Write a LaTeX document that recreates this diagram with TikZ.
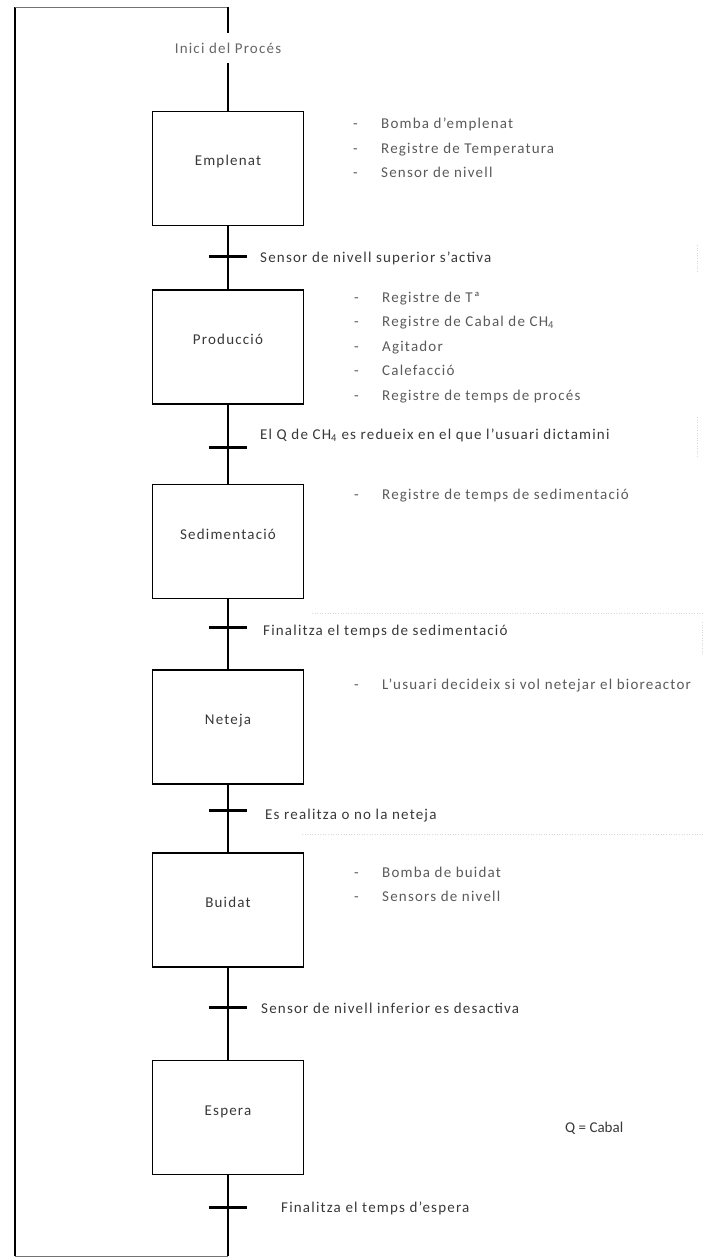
\documentclass[tikz,border=0pt]{standalone}
\usepackage{fontspec}
\setmainfont{Carlito}[LetterSpace=8]
\usepackage{tikz}
\definecolor{stepgray}{HTML}{383838}
\definecolor{listgray}{HTML}{5A5A5A}
\newcommand{\actdash}{\makebox[28pt][l]{-}}

\begin{document}
\begin{tikzpicture}[x=1pt, y=-1pt,
    every node/.style={font=\fontsize{15}{18}\selectfont, text=stepgray},
    stepbox/.style={draw=black, line width=1.5pt, minimum width=151pt, minimum height=114pt,
                    text height=6pt, text depth=11pt, inner sep=0pt},
    flow/.style={line width=2.9pt},
    bar/.style={line width=3pt},
    loopline/.style={line width=0.9pt, black!55},
    action/.style={anchor=base west, inner sep=0pt, text=listgray},
    tlabel/.style={anchor=base west, inner sep=0pt},
    frame/.style={dotted, black!15, line width=0.6pt}]

    \useasboundingbox (0,0) rectangle (712,1257);

    % Start of the cycle
    \node[minimum height=30pt, inner sep=0pt, text=black!60] (inici) at (228,48) {Inici del Procés};

    % Steps of the process
    \node[stepbox] (emplenat) at (228,168.5) {Emplenat};
    \node[stepbox] (produccio) at (228,347) {Producció};
    \node[stepbox] (sedimentacio) at (228,541.5) {Sedimentació};
    \node[stepbox] (neteja) at (228,727) {Neteja};
    \node[stepbox] (buidat) at (228,910) {Buidat};
    \node[stepbox] (espera) at (228,1117.5) {Espera};

    % Transitions between the steps
    \coordinate (t1) at (228,256);
    \coordinate (t2) at (228,447);
    \coordinate (t3) at (228,627);
    \coordinate (t4) at (228,810);
    \coordinate (t5) at (228,1007);
    \coordinate (t6) at (228,1207);

    % Corners of the return loop
    \coordinate (br) at (228,1256);
    \coordinate (bl) at (15,1256);
    \coordinate (tl) at (15,7);
    \coordinate (tr) at (228,7);

    % Main flow line
    \draw[flow] (inici) -- (emplenat);
    \draw[flow] (emplenat) -- (t1) -- (produccio);
    \draw[flow] (produccio) -- (t2) -- (sedimentacio);
    \draw[flow] (sedimentacio) -- (t3) -- (neteja);
    \draw[flow] (neteja) -- (t4) -- (buidat);
    \draw[flow] (buidat) -- (t5) -- (espera);
    \draw[flow] (espera) -- (t6) -- (br);

    % Return loop back to the start
    \draw[loopline] (br) -- (bl);
    \draw[flow, line width=2.6pt] (bl) -- (tl);
    \draw[loopline] (tl) -- (tr);
    \draw[flow] (tr) -- (inici);

    % Transition bars
    \draw[bar] ([xshift=-19pt]t1) -- ([xshift=19pt]t1);
    \draw[bar] ([xshift=-19pt]t2) -- ([xshift=19pt]t2);
    \draw[bar] ([xshift=-19pt]t3) -- ([xshift=19pt]t3);
    \draw[bar] ([xshift=-19pt]t4) -- ([xshift=19pt]t4);
    \draw[bar] ([xshift=-19pt]t5) -- ([xshift=19pt]t5);
    \draw[bar] ([xshift=-19pt]t6) -- ([xshift=19pt]t6);

    % Transition conditions
    \node[tlabel] (c1) at (260,262) {Sensor de nivell superior s’activa};
    \node[tlabel] (c2) at (260,439) {El Q de CH\textsubscript{4} es redueix en el que l’usuari dictamini};
    \node[tlabel] (c3) at (263,635) {Finalitza el temps de sedimentació};
    \node[tlabel] (c4) at (265,819) {Es realitza o no la neteja};
    \node[tlabel] (c5) at (261,1013) {Sensor de nivell inferior es desactiva};
    \node[tlabel] (c6) at (281,1212) {Finalitza el temps d’espera};

    % Actions of Emplenat
    \node[action] (emp1) at (353,129) {\actdash Bomba d’emplenat};
    \node[action] (emp2) at (353,153.5) {\actdash Registre de Temperatura};
    \node[action] (emp3) at (353,178) {\actdash Sensor de nivell};

    % Actions of Producció
    \node[action] (prod1) at (354,302) {\actdash Registre de Tª};
    \node[action] (prod2) at (354,326.5) {\actdash Registre de Cabal de CH\textsubscript{4}};
    \node[action] (prod3) at (354,351) {\actdash Agitador};
    \node[action] (prod4) at (354,375.5) {\actdash Calefacció};
    \node[action] (prod5) at (354,400) {\actdash Registre de temps de procés};

    % Actions of Sedimentació, Neteja and Buidat
    \node[action] (sed1) at (354,499) {\actdash Registre de temps de sedimentació};
    \node[action] (net1) at (354,689) {\actdash L’usuari decideix si vol netejar el bioreactor};
    \node[action] (buid1) at (354,877) {\actdash Bomba de buidat};
    \node[action] (buid2) at (354,901.5) {\actdash Sensors de nivell};

    % Note
    \node[tlabel] (nota) at (565,1132) {\addfontfeature{LetterSpace=0}Q = Cabal};

    % Faint borders of the text boxes
    \draw[frame] (697,245) -- (697,272);
    \draw[frame] (697,417) -- (697,457);
    \draw[frame] (312,613) -- (703,613);
    \draw[frame] (702,622) -- (702,655);
    \draw[frame] (302,834) -- (703,834);

\end{tikzpicture}
\end{document}
